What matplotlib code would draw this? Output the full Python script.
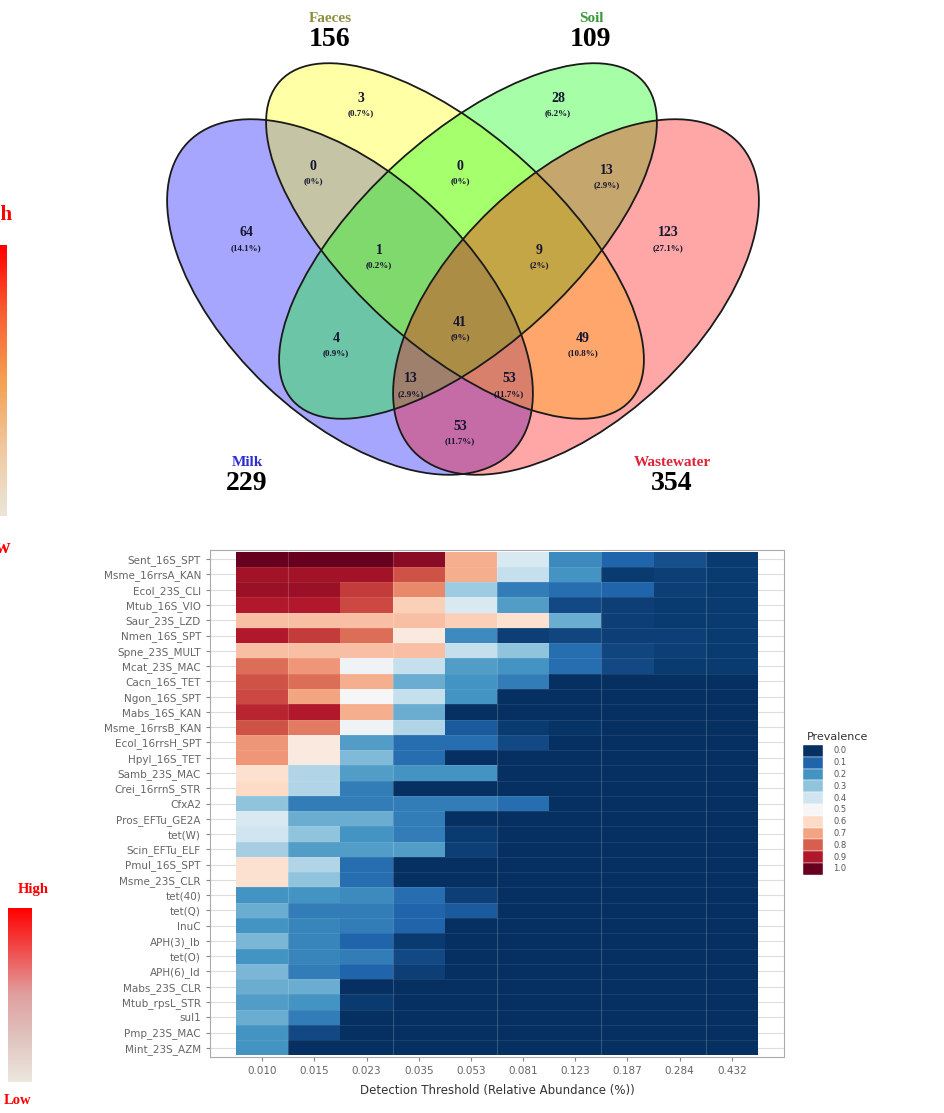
import numpy as np
import matplotlib
matplotlib.use("Agg")
import matplotlib.pyplot as plt
from matplotlib.patches import Ellipse, Rectangle
from matplotlib.colors import LinearSegmentedColormap

# ---- Venn data ----
set_names = ["Milk", "Faeces", "Soil", "Wastewater"]
set_keys = ["M", "F", "S", "W"]
fill_colors = ["#0000ff", "#ffff00", "#00ff00", "#ff0000"]
name_colors = ["#3030d0", "#8e8e40", "#3a983a", "#e02438"]
region_keys = ["M", "F", "S", "W", "MF", "FS", "SW", "MFS", "FSW",
               "MS", "FW", "MFSW", "MSW", "MFW", "MW"]
region_counts = [64, 3, 28, 123, 0, 0, 13, 1, 9, 4, 49, 41, 13, 53, 53]

# ---- heatmap data ----
thresholds = ["0.010", "0.015", "0.023", "0.035", "0.053",
              "0.081", "0.123", "0.187", "0.284", "0.432"]
genes = ["Sent_16S_SPT", "Msme_16rrsA_KAN", "Ecol_23S_CLI", "Mtub_16S_VIO",
         "Saur_23S_LZD", "Nmen_16S_SPT", "Spne_23S_MULT", "Mcat_23S_MAC",
         "Cacn_16S_TET", "Ngon_16S_SPT", "Mabs_16S_KAN", "Msme_16rrsB_KAN",
         "Ecol_16rrsH_SPT", "Hpyl_16S_TET", "Samb_23S_MAC", "Crei_16rrnS_STR",
         "CfxA2", "Pros_EFTu_GE2A", "tet(W)", "Scin_EFTu_ELF", "Pmul_16S_SPT",
         "Msme_23S_CLR", "tet(40)", "tet(Q)", "lnuC", "APH(3)_Ib", "tet(O)",
         "APH(6)_Id", "Mabs_23S_CLR", "Mtub_rpsL_STR", "sul1", "Pmp_23S_MAC",
         "Mint_23S_AZM"]
prevalence = [
    [1.00, 1.00, 1.00, 0.95, 0.68, 0.42, 0.18, 0.10, 0.06, 0.02],
    [0.92, 0.92, 0.92, 0.82, 0.68, 0.38, 0.20, 0.02, 0.03, 0.02],
    [0.93, 0.93, 0.85, 0.74, 0.32, 0.15, 0.12, 0.10, 0.03, 0.02],
    [0.90, 0.90, 0.83, 0.62, 0.42, 0.22, 0.05, 0.03, 0.02, 0.02],
    [0.65, 0.65, 0.65, 0.65, 0.62, 0.58, 0.25, 0.03, 0.02, 0.02],
    [0.90, 0.85, 0.78, 0.55, 0.18, 0.03, 0.04, 0.03, 0.03, 0.02],
    [0.65, 0.65, 0.65, 0.65, 0.38, 0.30, 0.12, 0.04, 0.03, 0.02],
    [0.78, 0.72, 0.48, 0.38, 0.22, 0.20, 0.12, 0.05, 0.02, 0.02],
    [0.82, 0.78, 0.68, 0.25, 0.20, 0.15, 0.00, 0.00, 0.00, 0.00],
    [0.83, 0.70, 0.50, 0.38, 0.20, 0.00, 0.00, 0.00, 0.00, 0.00],
    [0.88, 0.90, 0.68, 0.25, 0.00, 0.00, 0.00, 0.00, 0.00, 0.00],
    [0.82, 0.76, 0.48, 0.35, 0.08, 0.02, 0.01, 0.00, 0.00, 0.00],
    [0.72, 0.55, 0.22, 0.12, 0.12, 0.05, 0.00, 0.00, 0.00, 0.00],
    [0.72, 0.55, 0.28, 0.12, 0.00, 0.00, 0.00, 0.00, 0.00, 0.00],
    [0.58, 0.35, 0.22, 0.20, 0.20, 0.00, 0.00, 0.00, 0.00, 0.00],
    [0.60, 0.35, 0.15, 0.00, 0.00, 0.00, 0.00, 0.00, 0.00, 0.00],
    [0.30, 0.15, 0.15, 0.15, 0.15, 0.12, 0.00, 0.00, 0.00, 0.00],
    [0.42, 0.25, 0.25, 0.15, 0.00, 0.00, 0.00, 0.00, 0.00, 0.00],
    [0.40, 0.30, 0.20, 0.15, 0.02, 0.00, 0.00, 0.00, 0.00, 0.00],
    [0.33, 0.22, 0.22, 0.22, 0.03, 0.00, 0.00, 0.00, 0.00, 0.00],
    [0.58, 0.35, 0.12, 0.00, 0.00, 0.00, 0.00, 0.00, 0.00, 0.00],
    [0.58, 0.30, 0.12, 0.00, 0.00, 0.00, 0.00, 0.00, 0.00, 0.00],
    [0.20, 0.20, 0.18, 0.12, 0.03, 0.00, 0.00, 0.00, 0.00, 0.00],
    [0.25, 0.15, 0.15, 0.10, 0.08, 0.00, 0.00, 0.00, 0.00, 0.00],
    [0.20, 0.17, 0.15, 0.10, 0.00, 0.00, 0.00, 0.00, 0.00, 0.00],
    [0.27, 0.17, 0.10, 0.02, 0.00, 0.00, 0.00, 0.00, 0.00, 0.00],
    [0.20, 0.17, 0.15, 0.05, 0.00, 0.00, 0.00, 0.00, 0.00, 0.00],
    [0.27, 0.15, 0.10, 0.03, 0.00, 0.00, 0.00, 0.00, 0.00, 0.00],
    [0.25, 0.25, 0.00, 0.00, 0.00, 0.00, 0.00, 0.00, 0.00, 0.00],
    [0.22, 0.20, 0.02, 0.00, 0.00, 0.00, 0.00, 0.00, 0.00, 0.00],
    [0.25, 0.15, 0.00, 0.00, 0.00, 0.00, 0.00, 0.00, 0.00, 0.00],
    [0.20, 0.05, 0.00, 0.00, 0.00, 0.00, 0.00, 0.00, 0.00, 0.00],
    [0.20, 0.00, 0.00, 0.00, 0.00, 0.00, 0.00, 0.00, 0.00, 0.00],
]
legend_levels = [0.0, 0.1, 0.2, 0.3, 0.4, 0.5, 0.6, 0.7, 0.8, 0.9, 1.0]

SERIF = ["Liberation Serif", "DejaVu Serif"]

fig = plt.figure(figsize=(9.44, 11.13), dpi=100)
canvas = fig.add_axes([0, 0, 1, 1])
canvas.set_xlim(0, 944)
canvas.set_ylim(1113, 0)
canvas.axis("off")

# ---- Venn ellipses (pixel layout) ----
ellipses = {
    "M": ((350, 297), 448, 244, 43.5),
    "F": ((455, 241), 474, 211, 42.4),
    "S": ((468, 241), 474, 211, -42.4),
    "W": ((576, 297), 448, 244, -43.5),
}
for key, col in zip(set_keys, fill_colors):
    xy, w, h, ang = ellipses[key]
    canvas.add_patch(Ellipse(xy, w, h, angle=ang, facecolor=col,
                             alpha=0.35, edgecolor="none"))
for key in set_keys:
    xy, w, h, ang = ellipses[key]
    canvas.add_patch(Ellipse(xy, w, h, angle=ang, fill=False,
                             edgecolor="#1a1a1a", lw=1.3))

region_xy = {"M": (246, 240), "F": (361, 105), "S": (558, 105), "W": (668, 240),
             "MF": (313, 173), "FS": (460, 173), "SW": (607, 177),
             "MFS": (379, 257), "FSW": (539, 257), "MS": (336, 345),
             "FW": (583, 345), "MFSW": (460, 329), "MSW": (411, 386),
             "MFW": (509, 386), "MW": (460, 433)}
total = sum(region_counts)
for key, n in zip(region_keys, region_counts):
    x, y = region_xy[key]
    pct = round(100 * n / total, 1)
    pct_txt = f"({pct:g}%)"
    canvas.text(x, y - 7, str(n), ha="center", va="center", fontsize=10,
                fontweight="bold", family=SERIF, color="#151530")
    canvas.text(x, y + 8, pct_txt, ha="center", va="center", fontsize=6.5,
                fontweight="bold", family=SERIF, color="#151530")

name_xy = {"M": (247, 463), "F": (330, 18), "S": (591, 18), "W": (672, 463)}
for key, name, col in zip(set_keys, set_names, name_colors):
    size = sum(n for k, n in zip(region_keys, region_counts) if key in k)
    x, y = name_xy[key]
    canvas.text(x, y, name, ha="center", va="center", fontsize=11,
                fontweight="bold", family=SERIF, color=col)
    canvas.text(x, y + 21, str(size), ha="center", va="center", fontsize=20,
                fontweight="bold", family=SERIF, color="black")

# ---- cropped colour keys on the left ----
grad = np.linspace(1, 0, 256).reshape(-1, 1)
key1 = LinearSegmentedColormap.from_list("k1", ["#ebe6da", "#f0c8a0", "#f5a050", "#f86030", "#ff0000"])
key2 = LinearSegmentedColormap.from_list("k2", ["#ece8de", "#e0c4bf", "#e0a0a0", "#f05050", "#ff0000"])
canvas.imshow(grad, cmap=key1, extent=(0, 7, 516, 245), aspect="auto", zorder=1)
canvas.imshow(grad, cmap=key2, extent=(8, 32, 1082, 908), aspect="auto", zorder=1)
canvas.set_xlim(0, 944)
canvas.set_ylim(1113, 0)
canvas.text(13, 215, "High", ha="right", va="center", fontsize=15,
            fontweight="bold", family=SERIF, color="#ff0000")
canvas.text(11, 548, "Low", ha="right", va="center", fontsize=15,
            fontweight="bold", family=SERIF, color="#ff0000")
canvas.text(33, 889, "High", ha="center", va="center", fontsize=10.5,
            fontweight="bold", family=SERIF, color="#ff0000")
canvas.text(18, 1101, "Low", ha="center", va="center", fontsize=10.5,
            fontweight="bold", family=SERIF, color="#ff0000")

# ---- heatmap ----
data = np.array(prevalence)
cmap = plt.get_cmap("RdBu_r")
ax = fig.add_axes([210 / 944, 1 - 1057 / 1113, 574 / 944, 507 / 1113])
ax.set_axisbelow(True)
xe = np.arange(len(thresholds) + 1) - 0.5
ye = np.arange(len(genes) + 1)
ax.pcolormesh(xe, ye, data, cmap=cmap, vmin=0, vmax=1, zorder=2)
for xv in xe[1::2]:
    ax.axvline(xv, color="white", alpha=0.18, lw=0.8, zorder=3)
for yv in ye[1:-1]:
    ax.axhline(yv, color="white", alpha=0.1, lw=0.6, zorder=3)
ax.set_xlim(-1, len(thresholds))
ax.set_ylim(len(genes) + 0.1, -0.1)
ax.set_xticks(np.arange(len(thresholds)))
ax.set_xticklabels(thresholds)
ax.set_yticks(np.arange(len(genes)) + 0.5)
ax.set_yticklabels(genes)
ax.grid(axis="y", color="#dddddd", lw=0.8, zorder=0)
ax.tick_params(labelsize=7.5, labelcolor="#666666", color="#888888", length=3)
ax.set_xlabel("Detection Threshold (Relative Abundance (%))", fontsize=8.5,
              color="#333333", labelpad=6)
for sp in ax.spines.values():
    sp.set_color("#aaaaaa")

# ---- Prevalence legend ----
canvas.text(838, 737, "Prevalence", ha="center", va="center", fontsize=8,
            color="#333333")
sw = 11.8
for i, lev in enumerate(legend_levels):
    y0 = 745 + i * sw
    canvas.add_patch(Rectangle((803, y0), 20, sw, facecolor=cmap(lev),
                               edgecolor="white", lw=0.3))
    canvas.text(833, y0 + sw / 2, f"{lev:.1f}", ha="left", va="center",
                fontsize=6, color="#555555")

fig.savefig("out.png", dpi=100)
